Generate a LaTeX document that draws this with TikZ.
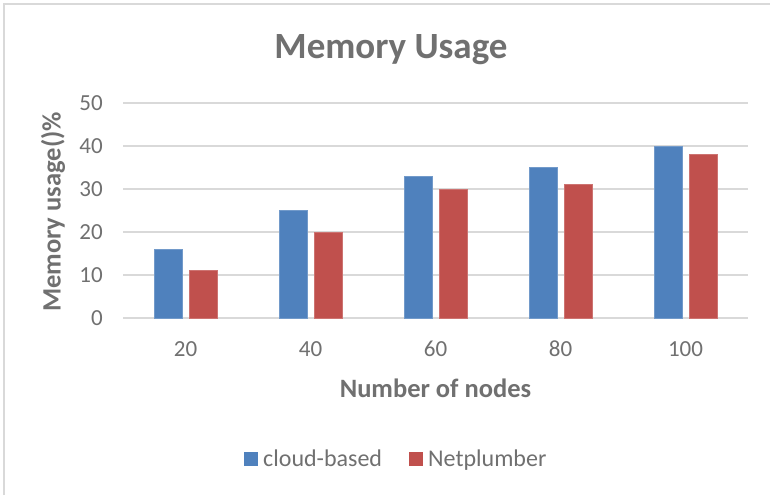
\documentclass[tikz,border=0pt]{standalone}
\usepackage{fontspec}
\setmainfont{Carlito}
\usepackage{tikz}
\definecolor{cloudblue}{HTML}{4F81BD}
\definecolor{plumbred}{HTML}{C0504D}
\definecolor{textgrey}{HTML}{707070}
\definecolor{gridgrey}{HTML}{D9D9D9}
\tikzset{
	gridline/.style={line width=1.6pt, color=gridgrey},
	cloudbar/.style={fill=cloudblue, draw=cloudblue!80!white, line width=0.6pt},
	plumbbar/.style={fill=plumbred, draw=plumbred!80!white, line width=0.6pt},
	ticklabel/.style={inner sep=0pt, text=textgrey, font=\fontsize{23}{27}\selectfont},
	keylabel/.style={inner sep=0pt, text=textgrey, font=\fontsize{24}{28}\selectfont},
	axistitle/.style={inner sep=0pt, text=textgrey, font=\fontsize{26.5}{31}\selectfont\bfseries},
}

\begin{document}
\begin{tikzpicture}[x=1pt, y=-1pt]
			%%%%% START %%%%%
			\useasboundingbox (0, 0) rectangle (770, 495);
			\fill[white] (0, 0) rectangle (770, 495);
			
			% frame
			\draw[line width=2pt, color=gridgrey] (3.5, 495) -- (3.5, 4) -- (770, 4);
			
			% title
			\node[inner sep=0pt, anchor=base, text=textgrey, font=\fontsize{37}{44}\selectfont\bfseries] (title) at (391, 59) {Memory Usage};
			
			% grid lines and y ticks
			\draw[gridline] (123, 318) -- (748, 318);
			\draw[gridline] (123, 275) -- (748, 275);
			\draw[gridline] (123, 232) -- (748, 232);
			\draw[gridline] (123, 189) -- (748, 189);
			\draw[gridline] (123, 146) -- (748, 146);
			\draw[gridline] (123, 103) -- (748, 103);
			
			\node[ticklabel, anchor=east] (y0) at (103, 318) {0};
			\node[ticklabel, anchor=east] (y10) at (103, 275) {10};
			\node[ticklabel, anchor=east] (y20) at (103, 232) {20};
			\node[ticklabel, anchor=east] (y30) at (103, 189) {30};
			\node[ticklabel, anchor=east] (y40) at (103, 146) {40};
			\node[ticklabel, anchor=east] (y50) at (103, 103) {50};
			
			% bars (value v -> 318 - 4.3 v)
			\draw[cloudbar] (154, 318) rectangle (182, 249.2);
			\draw[plumbbar] (189.5, 318) rectangle (217.5, 270.7);
			
			\draw[cloudbar] (279, 318) rectangle (307, 210.5);
			\draw[plumbbar] (314.5, 318) rectangle (342.5, 232);
			
			\draw[cloudbar] (404, 318) rectangle (432, 176.1);
			\draw[plumbbar] (439.5, 318) rectangle (467.5, 189);
			
			\draw[cloudbar] (529, 318) rectangle (557, 167.5);
			\draw[plumbbar] (564.5, 318) rectangle (592.5, 184.7);
			
			\draw[cloudbar] (654, 318) rectangle (682, 146);
			\draw[plumbbar] (689.5, 318) rectangle (717.5, 154.6);
			
			% x ticks
			\node[ticklabel, anchor=base] (x20) at (185.5, 356) {20};
			\node[ticklabel, anchor=base] (x40) at (310.5, 356) {40};
			\node[ticklabel, anchor=base] (x60) at (435.5, 356) {60};
			\node[ticklabel, anchor=base] (x80) at (560.5, 356) {80};
			\node[ticklabel, anchor=base] (x100) at (685.5, 356) {100};
			
			% axis titles
			\node[axistitle, anchor=base] (xtitle) at (435.5, 397) {Number of nodes};
			\node[axistitle, rotate=90] (ytitle) at (53, 212) {Memory usage()\%};
			
			% legend
			\fill[cloudblue] (244, 452) rectangle (258, 466);
			\node[keylabel, anchor=base west] (cloudkey) at (263, 466) {cloud-based};
			\fill[plumbred] (409, 452) rectangle (423, 466);
			\node[keylabel, anchor=base west] (plumbkey) at (428, 466) {Netplumber};
			%%%%% END %%%%%
\end{tikzpicture}
\end{document}
